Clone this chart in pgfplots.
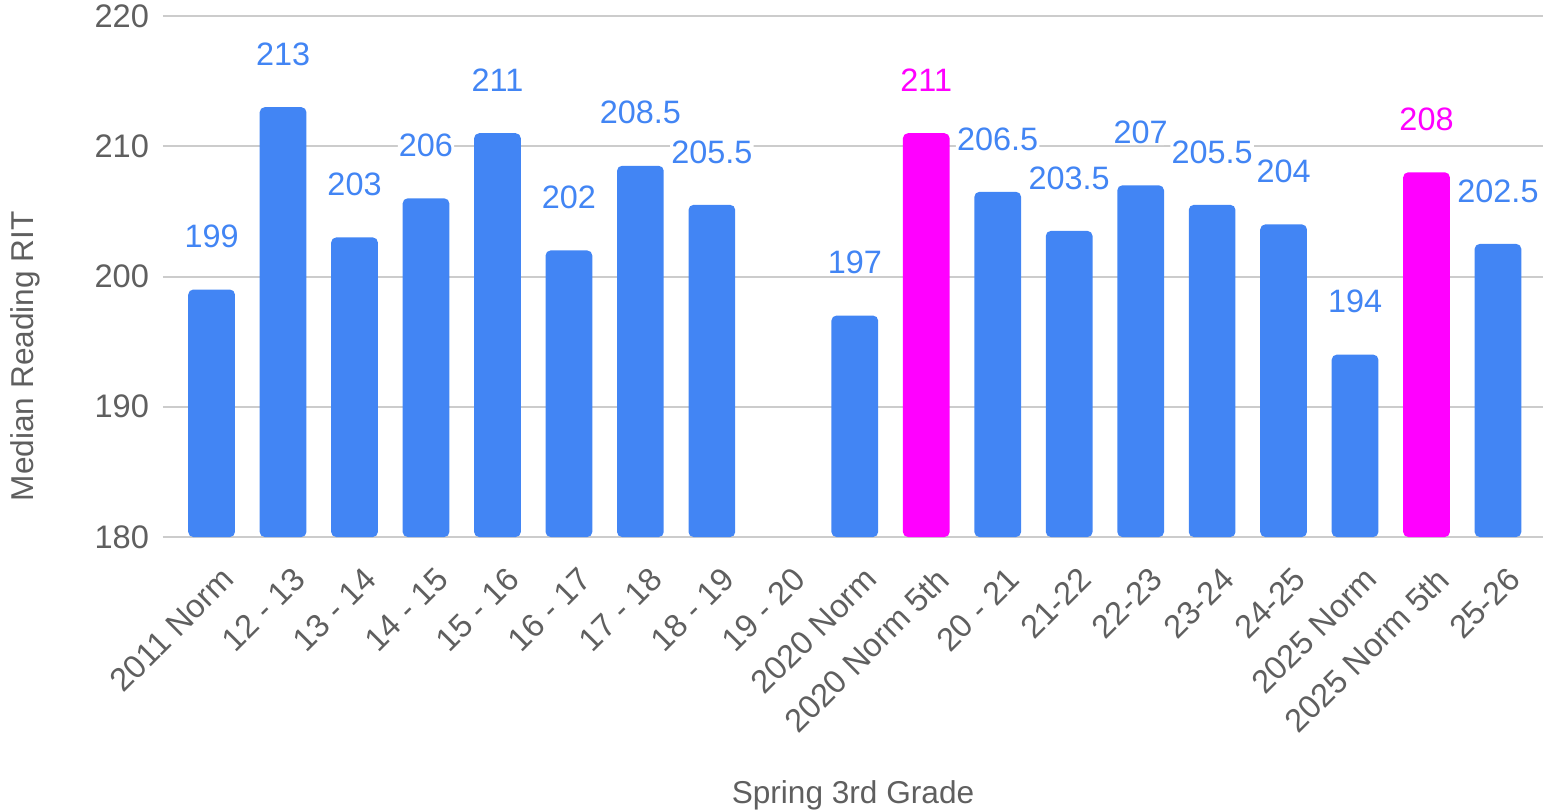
\documentclass[border=0pt]{standalone}
\usepackage{pgfplots}
\pgfplotsset{compat=1.18}
\usepackage{fontspec}
\setmainfont{Liberation Sans}
\definecolor{gblue}{HTML}{4285F4}
\definecolor{gmag}{HTML}{FF00FF}
\definecolor{txtgray}{HTML}{5F5F5F}
\definecolor{gridgray}{HTML}{CCCCCC}
\begin{document}
\begin{tikzpicture}
\begin{axis}[
  width=690pt, height=260.5pt, scale only axis,
  xmin=-0.68, xmax=18.63, ymin=180, ymax=220,
  ytick={180,190,200,210,220},
  xtick={0,...,18},
  xticklabels={2011 Norm,12 - 13,13 - 14,14 - 15,15 - 16,16 - 17,17 - 18,18 - 19,19 - 20,2020 Norm,2020 Norm 5th,20 - 21,21-22,22-23,23-24,24-25,2025 Norm,2025 Norm 5th,25-26},
  axis x line*=bottom, axis y line*=left,
  y axis line style={draw=none},
  x axis line style={gridgray, line width=1pt},
  ymajorgrids, grid style={gridgray, line width=1pt},
  major tick length=0pt,
  tick label style={font=\fontsize{16.3}{19}\selectfont, text=txtgray},
  /pgf/number format/assume math mode=true,
  yticklabel style={anchor=east, xshift=-3.5pt},
  xticklabel style={xshift=4pt, yshift=-14pt, rotate=45, anchor=north east, inner sep=0pt},
  xlabel={Spring 3rd Grade}, ylabel={Median Reading RIT},
  label style={font=\fontsize{15.8}{19}\selectfont, text=txtgray},
  xlabel style={at={(rel axis cs:0.5,-0.5106)}, anchor=base},
  ylabel style={at={(rel axis cs:-0.0942,0.347)}, anchor=base},
  ybar, bar width=23.35pt, bar shift=0pt,
  nodes near coords,
  nodes near coords style={font=\fontsize{16.2}{19}\selectfont, anchor=center, yshift=26.5pt, fill=white, inner sep=0.6pt},
]
\addplot[draw=none, fill=gblue, rounded corners=2.5pt,
  every node near coord/.append style={text=gblue}] coordinates {
  (0,199) (1,213) (2,203) (3,206) (4,211) (5,202) (6,208.5) (7,205.5)
  (9,197) (11,206.5) (12,203.5) (13,207) (14,205.5) (15,204) (16,194) (18,202.5)
};
\addplot[draw=none, fill=gmag, rounded corners=2.5pt,
  every node near coord/.append style={text=gmag}] coordinates {
  (10,211) (17,208)
};
\end{axis}
\pgfresetboundingbox
\useasboundingbox (-81.5pt,-137pt) rectangle (691.5pt,268.5pt);
\end{tikzpicture}
\end{document}
